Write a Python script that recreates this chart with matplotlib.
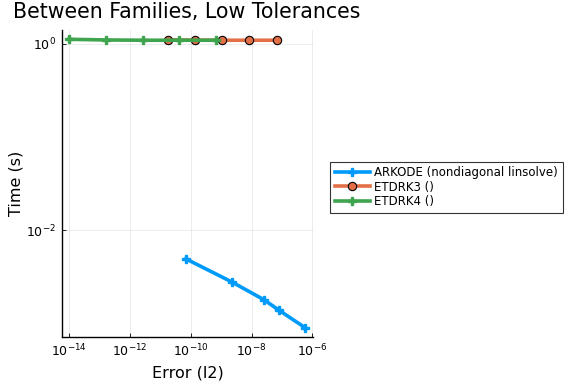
import matplotlib
matplotlib.use("Agg")
import matplotlib.pyplot as plt
import numpy as np

# Data (log10 values)
arkode_err = [10**-10.16, 10**-8.64, 10**-7.59, 10**-7.11, 10**-6.24]
arkode_time = [10**-2.31, 10**-2.56, 10**-2.75, 10**-2.86, 10**-3.05]

etdrk3_err = [10**-10.75, 10**-9.85, 10**-8.96, 10**-8.07, 10**-7.17]
etdrk3_time = [10**0.043, 10**0.042, 10**0.040, 10**0.040, 10**0.040]

etdrk4_err = [10**-14.0, 10**-12.79, 10**-11.58, 10**-10.38, 10**-9.18]
etdrk4_time = [10**0.050, 10**0.043, 10**0.040, 10**0.040, 10**0.040]

labels = ["ARKODE (nondiagonal linsolve)", "ETDRK3 ()", "ETDRK4 ()"]
xticks = [1e-14, 1e-12, 1e-10, 1e-8, 1e-6]
xticklabels = [r"$10^{-14}$", r"$10^{-12}$", r"$10^{-10}$", r"$10^{-8}$", r"$10^{-6}$"]
yticks = [1e-2, 1e0]
yticklabels = [r"$10^{-2}$", r"$10^{0}$"]

c_blue = "#009AFA"
c_orange = "#E26F46"
c_green = "#3EA44E"

fig = plt.figure(figsize=(5.76, 3.84), dpi=100)
ax = fig.add_axes([62/576, 1 - 336.7/384, (313-62)/576, (336.7-30)/384])

ax.plot(arkode_err, arkode_time, color=c_blue, lw=2.6, marker="P", ms=6,
        mec=c_blue, mfc=c_blue, label=labels[0], zorder=3)
ax.plot(etdrk3_err, etdrk3_time, color=c_orange, lw=2.6, marker="o", ms=6,
        mec="black", mew=0.8, mfc=c_orange, label=labels[1], zorder=3)
ax.plot(etdrk4_err, etdrk4_time, color=c_green, lw=2.6, marker="P", ms=6,
        mec=c_green, mfc=c_green, label=labels[2], zorder=4)

ax.set_xscale("log")
ax.set_yscale("log")
ax.set_xlim(10**-14.23, 10**-5.98)
ax.set_ylim(10**-3.147, 10**0.15)
ax.set_xticks(xticks)
ax.set_xticklabels(xticklabels)
ax.set_yticks(yticks)
ax.set_yticklabels(yticklabels)
ax.minorticks_off()
ax.tick_params(direction="in", labelsize=9, length=3, width=0.6, pad=4)
ax.grid(True, color="black", alpha=0.1, lw=0.5)
ax.spines["top"].set_visible(False)
ax.spines["right"].set_visible(False)
for s in ["left", "bottom"]:
    ax.spines[s].set_linewidth(1.0)

ax.set_xlabel("Error (l2)", fontsize=11.5, labelpad=5)
ax.set_ylabel("Time (s)", fontsize=11.5, labelpad=2)
fig.text(13/576, 1 - 12/384, "Between Families, Low Tolerances", fontsize=14.8,
         ha="left", va="center")

leg = fig.legend(handles=ax.get_lines(), labels=labels,
                 loc="upper left", bbox_to_anchor=(330/576, 1 - 161.7/384),
                 borderaxespad=0, fontsize=8.5,
                 frameon=True, fancybox=False, edgecolor="black",
                 borderpad=0.4, labelspacing=0.1, handlelength=3.0,
                 handletextpad=0.35)
leg.get_frame().set_linewidth(0.8)

fig.savefig("out.png", dpi=100)
